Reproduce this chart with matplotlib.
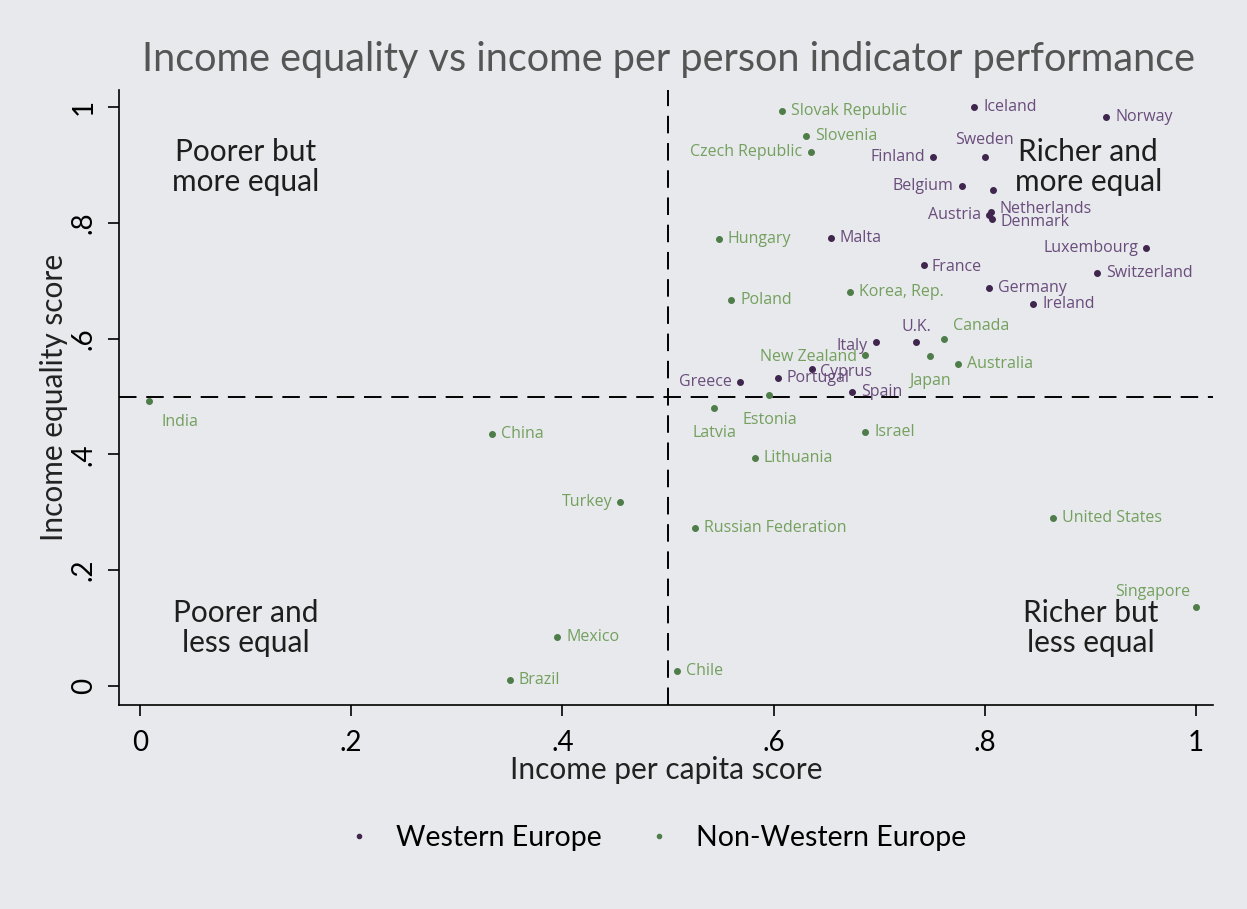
import matplotlib.pyplot as plt
from matplotlib.lines import Line2D

# Scores per country: income per capita (x) and income equality (y)
west_names = ["Iceland", "Norway", "Sweden", "Finland", "Belgium", "", "Austria",
              "Netherlands", "Denmark", "Malta", "Luxembourg", "France", "Switzerland",
              "Germany", "Ireland", "U.K.", "Italy", "Cyprus", "Portugal", "Greece", "Spain"]
west_x = [0.790, 0.915, 0.800, 0.751, 0.778, 0.808, 0.804,
          0.806, 0.807, 0.654, 0.953, 0.742, 0.906,
          0.804, 0.846, 0.735, 0.697, 0.636, 0.604, 0.568, 0.674]
west_y = [1.000, 0.983, 0.914, 0.914, 0.864, 0.857, 0.814,
          0.818, 0.807, 0.774, 0.756, 0.727, 0.713,
          0.687, 0.660, 0.594, 0.594, 0.548, 0.532, 0.525, 0.508]

other_names = ["Slovak Republic", "Slovenia", "Czech Republic", "Hungary", "Poland",
               "Korea, Rep.", "Canada", "New Zealand", "Japan", "Australia", "Estonia",
               "Latvia", "Israel", "Lithuania", "India", "China", "Turkey",
               "Russian Federation", "United States", "Singapore", "Mexico", "Chile", "Brazil"]
other_x = [0.608, 0.631, 0.635, 0.548, 0.560,
           0.672, 0.761, 0.687, 0.748, 0.775, 0.596,
           0.544, 0.687, 0.582, 0.009, 0.333, 0.455,
           0.526, 0.865, 1.000, 0.395, 0.509, 0.350]
other_y = [0.993, 0.950, 0.922, 0.772, 0.667,
           0.680, 0.599, 0.572, 0.570, 0.556, 0.503,
           0.480, 0.439, 0.394, 0.492, 0.435, 0.318,
           0.273, 0.290, 0.136, 0.085, 0.026, 0.010]

x_ticks = [0, 0.2, 0.4, 0.6, 0.8, 1]
x_tick_labels = ["0", ".2", ".4", ".6", ".8", "1"]
y_ticks = [0, 0.2, 0.4, 0.6, 0.8, 1]
y_tick_labels = ["0", ".2", ".4", ".6", ".8", "1"]

# label placement (offset in pixels, horizontal alignment); default is to the right
label_pos = {
    "Sweden": (0, 17, "center"), "U.K.": (0, 15, "center"),
    "Canada": (9, 13, "left"), "Japan": (0, -25, "center"),
    "Estonia": (0, -25, "center"), "Latvia": (0, -25, "center"),
    "Singapore": (-6, 15, "right"), "India": (12, -21, "left"),
    "Finland": (-8, 0, "right"), "Belgium": (-8, 0, "right"),
    "Austria": (-8, 0, "right"), "Czech Republic": (-8, 0, "right"),
    "Luxembourg": (-8, 0, "right"), "Italy": (-8, -4, "right"),
    "New Zealand": (-8, -2, "right"), "Greece": (-8, 0, "right"),
    "Turkey": (-8, 0, "right"), "Netherlands": (8, 3, "left"),
    "Denmark": (8, -3, "left"), "Cyprus": (8, -3, "left"),
    "France": (8, -2, "left"),
}

BG = "#e7e9ec"
WEST_DOT, WEST_TXT = "#40264f", "#6a4c7c"
OTHER_DOT, OTHER_TXT = "#4f7d4a", "#74a05e"
PX = 0.72  # points per pixel at 100 dpi

fig = plt.figure(figsize=(12.47, 9.09), dpi=100, facecolor=BG)
ax = fig.add_axes([0.0954, 0.2244, 0.8773, 0.6766], facecolor=BG)


def plot_group(names, xs, ys, dot_color, txt_color):
    ax.plot(xs, ys, "o", ms=4, color=dot_color, zorder=3)
    for n, x, y in zip(names, xs, ys):
        if not n:
            continue
        dx, dy, ha = label_pos.get(n, (9, 0, "left"))
        ax.annotate(n, (x, y), xytext=(dx * PX, dy * PX), textcoords="offset points",
                    ha=ha, va="center", fontsize=11.5, family="Open Sans",
                    color=txt_color, zorder=4)


plot_group(west_names, west_x, west_y, WEST_DOT, WEST_TXT)
plot_group(other_names, other_x, other_y, OTHER_DOT, OTHER_TXT)

# quadrant split lines
ax.axvline(0.5, color="black", lw=1.4, ls=(0, (9, 5)), zorder=2)
ax.axhline(0.5, color="black", lw=1.4, ls=(0, (9, 5)), zorder=2)

quad_kw = dict(ha="center", va="center", fontsize=21.5, family="Lato",
               color="#1e1e1e", linespacing=1.1, zorder=5)
ax.text(0.100, 0.896, "Poorer but\nmore equal", **quad_kw)
ax.text(0.898, 0.896, "Richer and\nmore equal", bbox=dict(fc=BG, ec="none", pad=1), **quad_kw)
ax.text(0.100, 0.100, "Poorer and\nless equal", **quad_kw)
ax.text(0.900, 0.100, "Richer but\nless equal", **quad_kw)

ax.set_xlim(-0.0199, 1.0161)
ax.set_ylim(-0.0328, 1.0294)
ax.set_xticks(x_ticks)
ax.set_xticklabels(x_tick_labels)
ax.set_yticks(y_ticks)
ax.set_yticklabels(y_tick_labels, rotation=90, va="center")
ax.tick_params(axis="both", length=8, width=1.2, labelsize=20, colors="black")
ax.tick_params(axis="x", pad=10)
ax.tick_params(axis="y", pad=8)
for lab in ax.get_xticklabels() + ax.get_yticklabels():
    lab.set_family("Lato")
for s in ["top", "right"]:
    ax.spines[s].set_visible(False)
for s in ["left", "bottom"]:
    ax.spines[s].set_linewidth(1.2)

ax.set_xlabel("Income per capita score", fontsize=21.5, family="Lato", color="#222", labelpad=0)
ax.set_ylabel("Income equality score", fontsize=21.5, family="Lato", color="#222", labelpad=2)

fig.text(0.536, 1 - 60 / 909, "Income equality vs income per person indicator performance",
         ha="center", va="center", fontsize=28.5, family="Lato", color="#555555")

handles = [Line2D([], [], ls="none", marker="o", ms=3, color=WEST_DOT),
           Line2D([], [], ls="none", marker="o", ms=3, color=OTHER_DOT)]
fig.legend(handles, ["Western Europe", "Non-Western Europe"], loc="center",
           bbox_to_anchor=(0.520, 1 - 838 / 909), ncol=2, frameon=False,
           prop=dict(family="Lato", size=20.5), handletextpad=0.3, columnspacing=1.0)

fig.savefig("out.png", dpi=100, facecolor=BG)
